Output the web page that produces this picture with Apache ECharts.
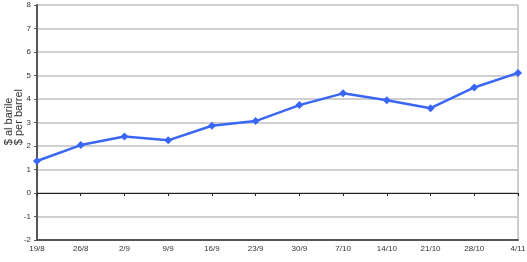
<!DOCTYPE html>
<html><head><meta charset="utf-8">
<script src="https://cdn.jsdelivr.net/npm/echarts@6/dist/echarts.min.js"></script>
<style>html,body{margin:0;padding:0;background:#fff}#c{width:527px;height:262px}</style>
</head><body><div id="c"></div>
<script>
var categories = ['19/8','26/8','2/9','9/9','16/9','23/9','30/9','7/10','14/10','21/10','28/10','4/11'];
var values = [1.36, 2.04, 2.40, 2.24, 2.86, 3.06, 3.74, 4.24, 3.95, 3.61, 4.49, 5.11];
var yTicks = {min: -2, max: 8, interval: 1};
var yTitle = '$ al barile\n$ per barrel';

var chart = echarts.init(document.getElementById('c'));
chart.setOption({
  animation: false,
  grid: {left: 37, right: 9, top: 5, bottom: 22, show: true, borderColor: '#9a9a9a', borderWidth: 1,
         containLabel: false, outerBoundsMode: 'none'},
  graphic: [{
    type: 'text', left: 3, top: 89, rotation: Math.PI / 2,
    style: {text: yTitle, fill: '#333', font: '11px Arial', lineHeight: 10.5, align: 'center'}
  }],
  xAxis: [{
    type: 'category', data: categories, boundaryGap: false, position: 'bottom',
    axisLine: {onZero: false, lineStyle: {color: '#555', width: 2}},
    axisTick: {show: false},
    axisLabel: {color: '#333', fontSize: 8, fontFamily: 'Liberation Sans Narrow, Arial', margin: 5, interval: 0}
  }, {
    type: 'category', data: categories, boundaryGap: false, position: 'bottom',
    axisLine: {onZero: true, lineStyle: {color: '#222', width: 1}},
    axisTick: {show: true, length: 3, lineStyle: {color: '#222'}},
    axisLabel: {show: false}
  }],
  yAxis: {
    type: 'value', min: yTicks.min, max: yTicks.max, interval: yTicks.interval,
    axisLine: {show: true, lineStyle: {color: '#555', width: 2}},
    axisTick: {show: true, length: 3, lineStyle: {color: '#555'}},
    axisLabel: {color: '#333', fontSize: 8, fontFamily: 'Arial', margin: 6},
    splitLine: {lineStyle: {color: '#cfcfcf', width: 2}}
  },
  series: [{
    type: 'line', data: values, xAxisIndex: 0,
    symbol: 'diamond', symbolSize: 8,
    lineStyle: {color: '#3a66f5', width: 2.5},
    itemStyle: {color: '#3a66f5'}
  }]
});
</script></body></html>
